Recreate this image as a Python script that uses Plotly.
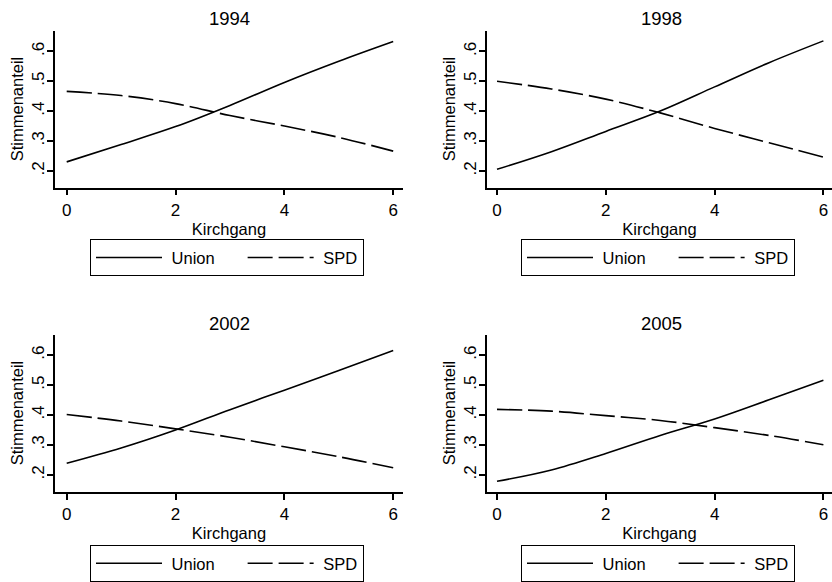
import plotly.graph_objects as go

# ---- data ----
kirchgang = [0, 1, 2, 3, 4, 5, 6]
years = ["1994", "1998", "2002", "2005"]
union_1994 = [0.230, 0.288, 0.348, 0.419, 0.496, 0.567, 0.633]
spd_1994 = [0.466, 0.452, 0.425, 0.385, 0.350, 0.312, 0.266]
union_1998 = [0.205, 0.264, 0.332, 0.400, 0.481, 0.562, 0.635]
spd_1998 = [0.500, 0.474, 0.440, 0.394, 0.342, 0.294, 0.246]
union_2002 = [0.239, 0.290, 0.350, 0.418, 0.483, 0.549, 0.615]
spd_2002 = [0.402, 0.380, 0.354, 0.326, 0.294, 0.261, 0.224]
union_2005 = [0.179, 0.217, 0.272, 0.332, 0.387, 0.451, 0.516]
spd_2005 = [0.419, 0.413, 0.398, 0.382, 0.358, 0.332, 0.301]
union_series = [union_1994, union_1998, union_2002, union_2005]
spd_series = [spd_1994, spd_1998, spd_2002, spd_2005]
x_ticks = [0, 2, 4, 6]
y_ticks = [0.2, 0.3, 0.4, 0.5, 0.6]
y_ticklabels = [".2", ".3", ".4", ".5", ".6"]

W, H = 832, 582
FONT = "Liberation Sans, Arial, sans-serif"
NB = "\u00a0"

# panel geometry in pixels (left, right, top, bottom)
panels = [
    (55, 403, 31.5, 190.5),
    (487, 832, 31.5, 190.5),
    (55, 403, 340, 499.5),
    (487, 832, 340, 499.5),
]
xranges = [(-0.215, 6.18), (-0.184, 6.158), (-0.215, 6.18), (-0.184, 6.158)]
yrange = (0.144, 0.668)

fig = go.Figure()
layout = dict(
    width=W, height=H, autosize=False,
    margin=dict(l=0, r=0, t=0, b=0),
    paper_bgcolor="white", plot_bgcolor="white",
    font=dict(family=FONT, size=16, color="black"),
    annotations=[],
)

for i in range(4):
    n = "" if i == 0 else str(i + 1)
    leg = "legend" if i == 0 else f"legend{i + 1}"
    l, r, t, b = panels[i]
    fig.add_trace(go.Scatter(
        x=kirchgang, y=union_series[i], mode="lines",
        name=NB + "Union" + "\u00a0" * 5,
        line=dict(color="black", width=1.6, shape="spline", smoothing=1.0),
        xaxis="x" + n, yaxis="y" + n, legend=leg))
    fig.add_trace(go.Scatter(
        x=kirchgang, y=spd_series[i], mode="lines", name=NB + "SPD",
        line=dict(color="black", width=1.6, dash="25px,6px", shape="spline", smoothing=1.0),
        xaxis="x" + n, yaxis="y" + n, legend=leg))
    layout["xaxis" + n] = dict(
        domain=[l / W, r / W], range=list(xranges[i]), anchor="y" + n,
        automargin=False,
        showgrid=False, zeroline=False, showline=True, linecolor="black", linewidth=1.5,
        ticks="outside", ticklen=6, tickwidth=1.5, tickcolor="black",
        tickvals=x_ticks, tickfont=dict(size=17),
        title=dict(text="Kirchgang", font=dict(size=16.5), standoff=5),
    )
    layout["yaxis" + n] = dict(
        domain=[1 - b / H, 1 - t / H], range=list(yrange), anchor="x" + n,
        automargin=False,
        showgrid=False, zeroline=False, showline=True, linecolor="black", linewidth=1.5,
        ticks="outside", ticklen=6, tickwidth=1.5, tickcolor="black",
        tickvals=y_ticks, ticktext=y_ticklabels, tickangle=-90, tickfont=dict(size=17),
        ticklabelstandoff=-4,
    )
    layout["annotations"].append(dict(
        text="Stimmenanteil", xref="paper", yref="paper", textangle=-90,
        x=(l - 38) / W, y=1 - ((t + b) / 2) / H,
        xanchor="center", yanchor="middle", showarrow=False,
        font=dict(size=16.5, family=FONT, color="black")))
    layout["annotations"].append(dict(
        text=years[i], xref="paper", yref="paper",
        x=((l + r) / 2) / W if i % 2 == 0 else 661 / W,
        y=1 - (18.5 if i < 2 else 329) / H,
        xanchor="center", yanchor="middle", showarrow=False,
        font=dict(size=18.5, family=FONT, color="black")))
    layout[leg] = dict(
        x=(90 if i % 2 == 0 else 521) / W,
        y=1 - (243 if i < 2 else 554) / H,
        xanchor="left", yanchor="top", orientation="h",
        bordercolor="black", borderwidth=1, bgcolor="white",
        font=dict(size=16.5, family=FONT, color="black"),
        itemwidth=66, tracegroupgap=0,
    )

fig.update_layout(**layout)
fig.write_html("out.html")
